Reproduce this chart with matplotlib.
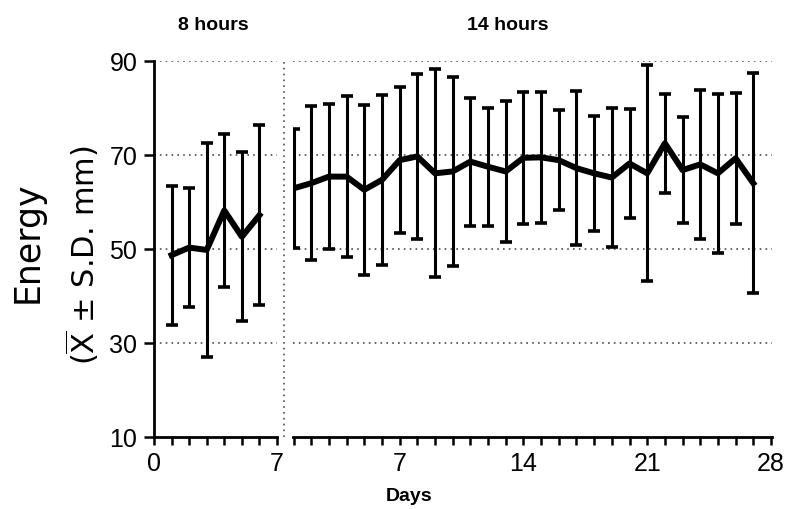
import matplotlib
matplotlib.use("Agg")
import matplotlib.pyplot as plt
import numpy as np

plt.rcParams['font.family'] = ['Liberation Sans', 'DejaVu Sans']
plt.rcParams['mathtext.fontset'] = 'dejavusans'

# ---- data ----
days_8h = [1, 2, 3, 4, 5, 6]
mean_8h = [48.7, 50.3, 49.8, 58.2, 52.6, 57.2]
sd_8h = [14.8, 12.7, 22.8, 16.3, 18.0, 19.2]

days_14h = list(range(1, 28))
mean_14h = [62.9, 64.0, 65.4, 65.4, 62.6, 64.7, 68.9, 69.7, 66.1, 66.5,
            68.6, 67.5, 66.5, 69.4, 69.5, 68.9, 67.2, 66.1, 65.2, 68.2,
            66.1, 72.5, 66.8, 68.0, 66.1, 69.3, 64.0]
sd_14h = [12.7, 16.4, 15.4, 17.1, 18.1, 18.1, 15.5, 17.5, 22.1, 20.1,
          13.6, 12.5, 15.0, 14.0, 13.9, 10.7, 16.4, 12.3, 14.8, 11.6,
          23.0, 10.5, 11.2, 15.8, 16.9, 13.9, 23.4]

yticks = [10, 30, 50, 70, 90]
grid_levels = [30, 50, 70, 90]
xticks_8h = [0, 7]
xticks_14h = [7, 14, 21, 28]

W, H = 791, 510
fig = plt.figure(figsize=(W / 100, H / 100), dpi=100)
bottom = 1 - 438 / H
height = (438 - 62) / H
ax1 = fig.add_axes([154 / W, bottom, (277 - 154) / W, height])
ax2 = fig.add_axes([293 / W, bottom, (771.5 - 293) / W, height])

for ax in (ax1, ax2):
    ax.set_ylim(10, 90)
    for s in ('top', 'right'):
        ax.spines[s].set_visible(False)
    ax.spines['bottom'].set_linewidth(2.0)
    ax.spines['left'].set_linewidth(2.0)
    for lv in grid_levels:
        ax.axhline(lv, ls=(0, (1, 2.5)), lw=1.2, color='0.3', zorder=0)
    ax.tick_params(axis='x', which='both', direction='out', length=6, width=1.8,
                   labelsize=18, pad=4)

ax1.set_xlim(0, 7)
ax2.set_xlim(0.97, 28.03)
ax2.spines['left'].set_visible(False)
ax2.tick_params(axis='y', left=False, labelleft=False)
ax1.set_yticks(yticks)
ax1.tick_params(axis='y', direction='out', length=7, width=1.8, labelsize=18, pad=5)

ax1.set_xticks(xticks_8h)
ax1.set_xticks(range(0, 8), minor=True)
ax2.set_xticks(xticks_14h)
ax2.set_xticks(range(1, 29), minor=True)

ekw = dict(fmt='none', ecolor='black', elinewidth=2.2, capsize=4.5, capthick=2.6, zorder=3)
ax1.errorbar(days_8h, mean_8h, yerr=sd_8h, **ekw)
ax1.plot(days_8h, mean_8h, color='black', lw=4.3, zorder=4, solid_joinstyle='round')
ax2.errorbar(days_14h, mean_14h, yerr=sd_14h, **ekw)
ax2.plot(days_14h, mean_14h, color='black', lw=4.3, zorder=4, solid_joinstyle='round')

# vertical dotted separator
ax2.plot([0.48, 0.48], [10, 90], ls=(0, (1, 2.5)), lw=1.2, color='0.3', clip_on=False)

fig.text(28 / W, 1 - 242 / H, 'Energy', rotation=90, fontsize=25,
         family='DejaVu Sans', ha='center', va='center')
fig.text(82 / W, 1 - 255 / H, r'($\overline{\mathsf{X}}$ ± S.D. mm)', rotation=90,
         fontsize=22, family='DejaVu Sans', ha='center', va='center')

fig.text(213 / W, 1 - 26 / H, '8 hours', fontsize=14, fontweight='bold',
         ha='center', va='center')
fig.text(508 / W, 1 - 26 / H, '14 hours', fontsize=14, fontweight='bold',
         ha='center', va='center')
fig.text(409 / W, 1 - 497 / H, 'Days', fontsize=14, fontweight='bold',
         ha='center', va='center')

fig.savefig('out.png', dpi=100, facecolor='white')
